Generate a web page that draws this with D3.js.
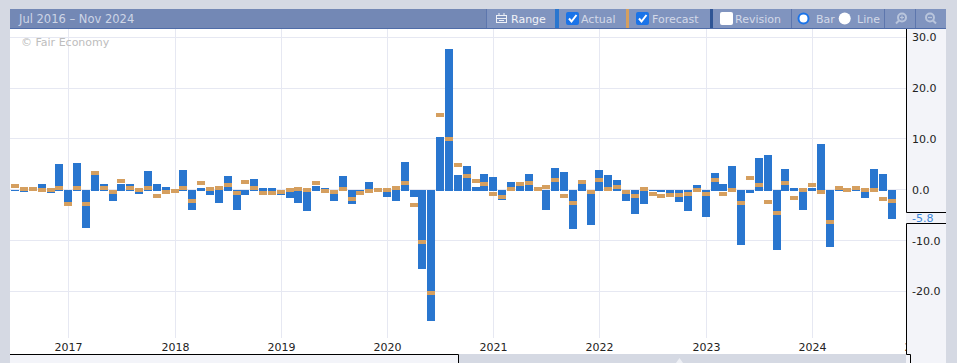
<!DOCTYPE html>
<html>
<head>
<meta charset="utf-8">
<script src="https://cdn.jsdelivr.net/npm/d3@7"></script>
<style>
    html, body { margin: 0; padding: 0; background: #d5d9e3; overflow: hidden; }
    svg { display: block; font-family: "DejaVu Sans", sans-serif; }
    text { font-size: 11px; }
</style>
</head>
<body>
<div id="chart"></div>
<script>
const width = 957
const height = 363

const months = d3.timeMonth.range(new Date(2016, 6, 1), new Date(2025, 1, 1))
const yTicks = [30, 20, 10, 0, -10, -20]
const yearTicks = [2017, 2018, 2019, 2020, 2021, 2022, 2023, 2024, 2025]

// one value per month, Jul 2016 to Oct 2024
const actual = [
    -0.2, -0.5, 0.0, 1.1, -0.7, 5.0,
    -3.2, 5.2, -7.6, 2.85, 1.1, -2.3, 1.1, 1.1, -0.9, 3.6, 1.1, 0.5,
    -0.2, 3.8, -4.0, 0.3, -1.1, -2.6, 2.6, -4.0, -1.1, 2.05, 0.3, 0.3,
    -1.1, -1.7, -2.6, -4.2, 0.65, 0.3, -2.3, 2.6, -2.9, -0.5, 1.45, -0.1,
    -1.5, -2.3, 5.55, -1.5, -15.6, -25.75, 10.45, 27.7, 2.8, 4.6, 0.5, 3.0,
    2.45, -2.1, 1.45, 0.7, 3.05, 0.1, -3.9, 4.3, 3.5, -7.8, 1.15, -7.0,
    3.9, 2.9, 1.85, -2.3, -4.85, -2.9, -0.2, -0.5, -0.7, -2.5, -4.1, 0.85,
    -5.4, 3.2, 1.05, 4.75, -10.8, -0.6, 6.3, 6.9, -11.8, 4.0, 0.3, -3.9,
    0.3, 8.9, -11.3, 0.1, -0.5, -0.3, -1.7, 4.0, 3.0, -5.8
]
const forecast = [
    0.65, 0.1, 0.1, -0.1, -0.1, 0.3,
    -2.9, 0.3, -2.9, 3.2, 0.3, -0.5, 1.65, 0.3, -0.1, 0.3, -1.3, -0.5,
    -0.3, 0.3, -2.3, 1.25, 0.1, 0.3, 0.9, -0.7, 1.45, 0.3, -0.7, -0.7,
    -0.5, -0.1, 0.1, -0.1, 1.25, -0.3, -0.5, 0.1, -1.9, -0.7, -0.3, -0.1,
    -0.1, 0.3, 1.25, -3.1, -10.3, -20.3, 14.8, 9.9, 4.8, 2.6, 1.8, 1.05,
    -0.9, -1.5, 0.1, 1.05, 1.25, 0.1, 0.45, 1.85, -1.3, -2.7, 1.45, -0.5,
    1.85, 0.1, 0.45, -0.5, -1.3, 0.1, -0.9, -1.3, -1.1, -1.1, -0.9, -0.1,
    -0.9, 1.85, -0.9, -0.1, -2.7, 2.4, 0.85, -2.5, -4.65, 1.25, -1.7, -0.1,
    0.85, -0.5, -6.4, 0.25, 0.0, 0.25, 0.0, 0.0, -1.9, -2.3
]

const blue = "#2976cf"
const orange = "#d59f5f"
const panel = "#f3f4f9"
const gridColor = "#e6e8f2"

const svg = d3.select("#chart").append("svg").attr("width", width).attr("height", height)

// chart area and right hand axis panel
svg.append("rect").attr("x", 10).attr("y", 29).attr("width", 896).attr("height", 325).attr("fill", "#fff")
svg.append("rect").attr("x", 906).attr("y", 29).attr("width", 40).attr("height", 334).attr("fill", panel)
svg.append("rect").attr("x", 10).attr("y", 354).attr("width", 449).attr("height", 9).attr("fill", panel)

const x = d3.scaleBand()
    .domain(months)
    .range([10.75, 10.75 + 8.853 * months.length])
const xMid = d => Math.round(x(d) + x.bandwidth() / 2)
const y = d3.scaleLinear().domain([30, -20]).range([37.3, 291.3])
// the axis labels use a plain hyphen
const fmt = d => d3.format(".1f")(d).replace("−", "-")

svg.append("clipPath").attr("id", "plot-clip")
    .append("rect").attr("x", 10).attr("y", 29).attr("width", 896).attr("height", 325)
const plot = svg.append("g").attr("clip-path", "url(#plot-clip)")

// horizontal grid
plot.append("g")
    .selectAll("line")
    .data(yTicks)
    .enter()
    .append("line")
    .attr("x1", 10)
    .attr("x2", 906)
    .attr("y1", d => Math.floor(y(d)) + 0.5)
    .attr("y2", d => Math.floor(y(d)) + 0.5)
    .attr("stroke", gridColor)

// years, gridline and label come from the same axis
const yearMonths = yearTicks.map(d => months.find(m => +m === +new Date(d, 0, 1)))
const xAxis = d3.axisBottom(x)
    .tickValues(yearMonths)
    .tickSize(309)
    .tickPadding(5)
    .tickFormat(d3.timeFormat("%Y"))
const xAxisG = plot.append("g").call(xAxis)
xAxisG.select(".domain").remove()
xAxisG.selectAll(".tick").attr("transform", d => `translate(${xMid(d) + 0.5},29)`)
xAxisG.selectAll("line").attr("stroke", gridColor)
xAxisG.selectAll("text").attr("fill", "#222").attr("font-family", "DejaVu Sans").style("font-size", "11px")

svg.append("text").attr("x", 21).attr("y", 46).attr("fill", "#bdbdbd").text("© Fair Economy")

// actual bars
const zero = Math.round(y(0))
plot.append("g")
    .selectAll("rect")
    .data(actual)
    .enter()
    .append("rect")
    .attr("x", (d, i) => xMid(months[i]) - 4)
    .attr("width", 8)
    .attr("y", d => d >= 0 ? Math.round(y(d)) : zero)
    .attr("height", d => d >= 0 ? zero + 1 - Math.round(y(d)) : Math.round(y(d)) - zero)
    .attr("fill", blue)

// forecast markers
plot.append("g")
    .selectAll("rect")
    .data(forecast)
    .enter()
    .append("rect")
    .attr("x", (d, i) => xMid(months[i]) - 4)
    .attr("width", 8)
    .attr("y", d => Math.round(y(d)) - 2)
    .attr("height", 4)
    .attr("fill", orange)

// y axis labels
const yAxis = d3.axisRight(y).tickValues(yTicks).tickSize(0).tickPadding(6).tickFormat(fmt)
const yAxisG = svg.append("g").attr("transform", "translate(906,0)").call(yAxis)
yAxisG.select(".domain").remove()
yAxisG.selectAll("text").attr("fill", "#222").attr("font-family", "DejaVu Sans").style("font-size", "11px")

// last value flag in the axis
const last = actual[actual.length - 1]
const flagTop = 212
const flagBottom = 223
svg.append("rect").attr("x", 906).attr("y", flagTop).attr("width", 40).attr("height", flagBottom - flagTop).attr("fill", panel)
svg.append("path")
    .attr("d", `M906.5,29V${flagTop}.5H946M946,${flagBottom}.5H906.5V354.5H910.5V363`)
    .attr("fill", "none")
    .attr("stroke", "#000")
svg.append("text").attr("x", 912).attr("y", flagBottom - 1.5).attr("fill", "#3b85d8").text(fmt(last))

// strip along the bottom
svg.append("path").attr("d", "M10,354.5H458.5V363").attr("fill", "none").attr("stroke", "#000")
svg.append("path").attr("d", "M676,363L679.5,358L683,363Z").attr("fill", "#eef0f5")

// header bar
const header = svg.append("g")
header.append("rect").attr("x", 10).attr("y", 9).attr("width", 936).attr("height", 19).attr("fill", "#7388b5")
header.append("rect").attr("x", 10).attr("y", 28).attr("width", 936).attr("height", 1).attr("fill", "#4f6ca8")
header.append("text").attr("x", 19).attr("y", 23).attr("fill", "#cdd5e6").style("font-size", "11.5px").text("Jul 2016 – Nov 2024")

const segments = [[487, 555], [559, 626], [629, 710], [713, 791], [792, 884], [885, 915], [916, 946]]
header.append("g").selectAll("rect").data(segments).enter().append("rect")
    .attr("x", d => d[0])
    .attr("y", 9)
    .attr("width", d => d[1] - d[0])
    .attr("height", 19)
    .attr("fill", "#8094bf")
const dividers = [486, 791, 884, 915]
header.append("g").selectAll("rect").data(dividers).enter().append("rect")
    .attr("x", d => d)
    .attr("y", 9)
    .attr("width", 1)
    .attr("height", 19)
    .attr("fill", "#5d76ad")
const swatches = [[555, blue], [626, orange], [710, "#2f5595"]]
header.append("g").selectAll("rect").data(swatches).enter().append("rect")
    .attr("x", d => d[0])
    .attr("y", 9)
    .attr("width", d => d[0] === 555 ? 4 : 3)
    .attr("height", 19)
    .attr("fill", d => d[1])

const labels = [["Range", 511, "#f0f2f7"], ["Actual", 581, "#d3d9e8"], ["Forecast", 652, "#d3d9e8"], ["Revision", 735, "#d3d9e8"], ["Bar", 816, "#d3d9e8"], ["Line", 857, "#d3d9e8"]]
header.append("g").selectAll("text").data(labels).enter().append("text")
    .attr("x", d => d[1])
    .attr("y", 23)
    .attr("fill", d => d[2])
    .text(d => d[0])

// checkboxes
function checkbox(px, checked) {
    header.append("rect").attr("x", px).attr("y", 12).attr("width", 13).attr("height", 13).attr("rx", 2)
        .attr("fill", checked ? "#1a73e8" : "#fff")
    if (checked) {
        header.append("path").attr("d", `M${px + 3},${18.5}l2.5,3l5,-6.5`).attr("fill", "none").attr("stroke", "#fff").attr("stroke-width", 2)
    }
}
checkbox(566, true)
checkbox(636, true)
checkbox(720, false)

// radios
header.append("circle").attr("cx", 803.5).attr("cy", 18.5).attr("r", 5).attr("fill", "#fff").attr("stroke", "#1a73e8").attr("stroke-width", 2)
header.append("circle").attr("cx", 844.7).attr("cy", 18.5).attr("r", 6).attr("fill", "#fff")

// range icon, a small calendar
const icon = header.append("g").attr("fill", "none").attr("stroke", "#eef1f7")
icon.append("rect").attr("x", 496.5).attr("y", 15.5).attr("width", 10).attr("height", 7)
icon.append("path").attr("d", "M496.5,18.5H506.5M499,13V15.5M504,13V15.5M499,20.5H504")

// zoom icons, dir sets the side the handle points to
function zoomIcon(cx, dir, plus) {
    const g = header.append("g").attr("fill", "none").attr("stroke", "#b9c5dc").attr("stroke-width", 2)
    g.append("circle").attr("cx", cx).attr("cy", 17.5).attr("r", 4)
    g.append("path").attr("d", `M${cx + 3 * dir},20.5l${3 * dir},3`)
    g.append("path").attr("d", plus ? `M${cx - 2},17.5H${cx + 2}M${cx},15.5V19.5` : `M${cx - 2},17.5H${cx + 2}`).attr("stroke-width", 1.2)
}
zoomIcon(902, -1, true)
zoomIcon(930, 1, false)
</script>
</body>
</html>
